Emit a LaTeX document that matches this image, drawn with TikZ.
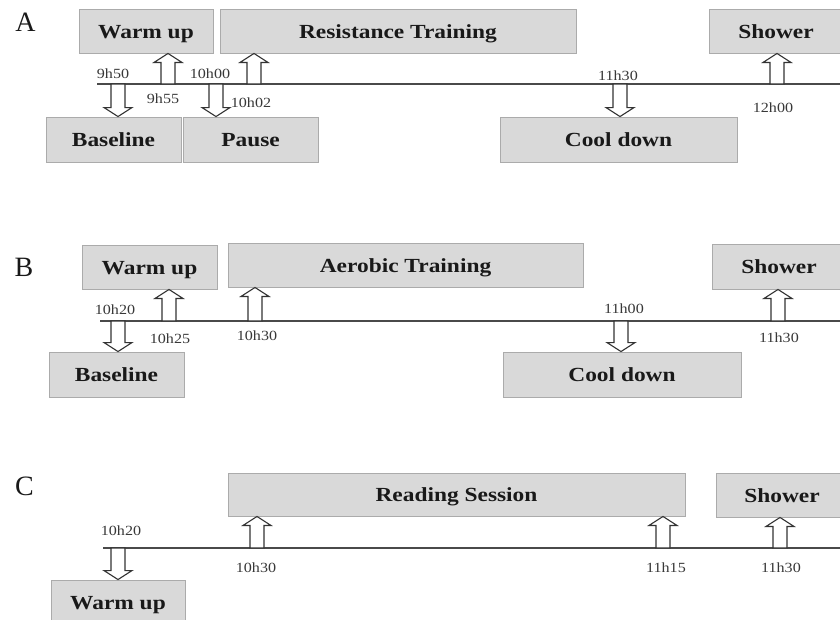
\documentclass[tikz,border=0pt]{standalone}
\usepackage{fontspec}
\setmainfont{Liberation Serif}
\newfontfamily\boxfont[FakeStretch=1.17]{Liberation Serif}
\newfontfamily\labfont[FakeStretch=1.15]{Liberation Serif}
\usetikzlibrary{calc}
\definecolor{boxfill}{HTML}{D9D9D9}
\definecolor{boxline}{HTML}{ABABAB}
\definecolor{lineclr}{HTML}{4A4A4A}
\tikzset{
  phase/.style={draw=boxline, fill=boxfill, line width=0.9pt, inner sep=0pt,
    text height=14pt, text depth=0pt,
    font=\boxfont\bfseries\fontsize{20}{22}\selectfont, text=black!90},
  tline/.style={draw=lineclr, line width=1.3pt},
  harr/.style={draw=black!80, fill=white, line width=1.1pt, line join=miter},
  tlab/.style={font=\labfont\fontsize{14}{16}\selectfont, text=black!78, inner sep=0pt},
  panel/.style={font=\fontsize{28}{30}\selectfont, inner sep=0pt, text=black!90}
}
\newcommand\hollowarrow[2]{%
  \draw[harr] let \p1=(#1), \p2=(#2), \p3=($(#2)!9pt!(#1)$) in
    (\x1-7pt,\y1) -- (\x1-7pt,\y3) -- (\x1-14pt,\y3) -- (\x1,\y2)
    -- (\x1+14pt,\y3) -- (\x1+7pt,\y3) -- (\x1+7pt,\y1) -- cycle;}
\begin{document}
\begin{tikzpicture}[x=1pt,y=-1pt]
\useasboundingbox (0,0) rectangle (840,619);
\clip (0,0) rectangle (840,619);

% ---------------- Panel A ----------------
\node[panel] (labA) at (25.5,22) {A};
\node[phase, minimum width=134, minimum height=44] (wuA) at (146,31) {Warm up};
\node[phase, minimum width=356, minimum height=44] (rtA) at (398,31) {Resistance Training};
\node[phase, minimum width=134, minimum height=44] (shA) at (776,31) {Shower};
\node[phase, minimum width=135, minimum height=45] (blA) at (113.5,139.5) {Baseline};
\node[phase, minimum width=135, minimum height=45] (paA) at (250.5,139.5) {Pause};
\node[phase, minimum width=237, minimum height=45] (cdA) at (618.5,139.5) {Cool down};
\coordinate (lA0) at (97,84);
\coordinate (lA1) at (845,84);
\draw[tline] (lA0) -- (lA1);
\coordinate (tA1) at (118,84);
\coordinate (tA2) at (168,84);
\coordinate (tA3) at (216,84);
\coordinate (tA4) at (254,84);
\coordinate (tA5) at (620,84);
\coordinate (tA6) at (777,84);
\hollowarrow{tA1}{tA1 |- blA.north}
\hollowarrow{tA2}{tA2 |- wuA.south}
\hollowarrow{tA3}{tA3 |- paA.north}
\hollowarrow{tA4}{tA4 |- rtA.south}
\hollowarrow{tA5}{tA5 |- cdA.north}
\hollowarrow{tA6}{tA6 |- shA.south}
\node[tlab] (sA1) at (113,74) {9h50};
\node[tlab] (sA2) at (163,99) {9h55};
\node[tlab] (sA3) at (210,74) {10h00};
\node[tlab] (sA4) at (251,103) {10h02};
\node[tlab] (sA5) at (618,76) {11h30};
\node[tlab] (sA6) at (773,108) {12h00};

% ---------------- Panel B ----------------
\node[panel] (labB) at (24,267.5) {B};
\node[phase, minimum width=135, minimum height=44] (wuB) at (149.5,267) {Warm up};
\node[phase, minimum width=355, minimum height=44] (aeB) at (405.5,265) {Aerobic Training};
\node[phase, minimum width=134, minimum height=45] (shB) at (779,266.5) {Shower};
\node[phase, minimum width=135, minimum height=45] (blB) at (116.5,374.5) {Baseline};
\node[phase, minimum width=238, minimum height=45] (cdB) at (622,374.5) {Cool down};
\coordinate (lB0) at (100,321);
\coordinate (lB1) at (845,321);
\draw[tline] (lB0) -- (lB1);
\coordinate (tB1) at (118,321);
\coordinate (tB2) at (169,321);
\coordinate (tB3) at (255,321);
\coordinate (tB4) at (621,321);
\coordinate (tB5) at (778,321);
\hollowarrow{tB1}{tB1 |- blB.north}
\hollowarrow{tB2}{tB2 |- wuB.south}
\hollowarrow{tB3}{tB3 |- aeB.south}
\hollowarrow{tB4}{tB4 |- cdB.north}
\hollowarrow{tB5}{tB5 |- shB.south}
\node[tlab] (sB1) at (115,310) {10h20};
\node[tlab] (sB2) at (170,339) {10h25};
\node[tlab] (sB3) at (257,336) {10h30};
\node[tlab] (sB4) at (624,309) {11h00};
\node[tlab] (sB5) at (779,338) {11h30};

% ---------------- Panel C ----------------
\node[panel] (labC) at (24.5,486) {C};
\node[phase, minimum width=457, minimum height=43] (rsC) at (456.5,494.5) {Reading Session};
\node[phase, minimum width=132, minimum height=44] (shC) at (782,495) {Shower};
\node[phase, minimum width=134, minimum height=45] (wuC) at (118,602.5) {Warm up};
\coordinate (lC0) at (103,548);
\coordinate (lC1) at (845,548);
\draw[tline] (lC0) -- (lC1);
\coordinate (tC1) at (118,548);
\coordinate (tC2) at (257,548);
\coordinate (tC3) at (663,548);
\coordinate (tC4) at (780,548);
\hollowarrow{tC1}{tC1 |- wuC.north}
\hollowarrow{tC2}{tC2 |- rsC.south}
\hollowarrow{tC3}{tC3 |- rsC.south}
\hollowarrow{tC4}{tC4 |- shC.south}
\node[tlab] (sC1) at (121,531) {10h20};
\node[tlab] (sC2) at (256,568) {10h30};
\node[tlab] (sC3) at (666,568) {11h15};
\node[tlab] (sC4) at (781,568) {11h30};
\end{tikzpicture}
\end{document}
